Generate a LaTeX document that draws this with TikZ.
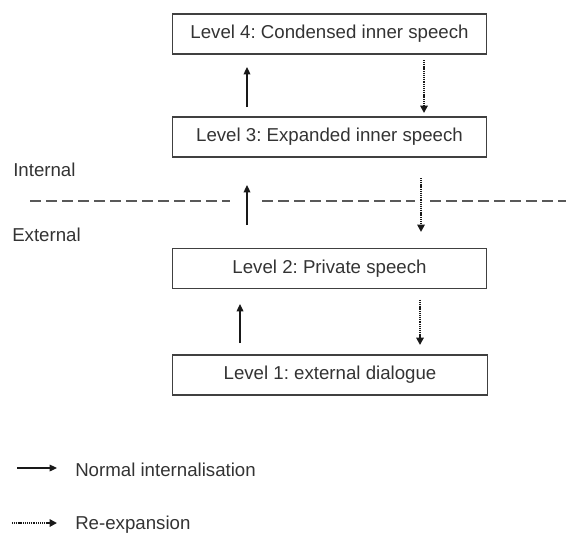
\documentclass[tikz,border=0pt]{standalone}
\usepackage{fontspec}
\setmainfont{Liberation Sans}
\usetikzlibrary{arrows.meta}
\frenchspacing

\begin{document}
\begin{tikzpicture}[x=0.75pt, y=-0.75pt,
    every node/.style={font=\fontsize{14}{16.8}\selectfont, text=black!80},
    level/.style ={rectangle, draw=black!75, line width=0.9pt, minimum width=236pt, minimum height=30pt, inner sep=0pt, outer sep=0pt},
    caption/.style ={anchor=base west, inner sep=0pt},
    internalisation/.style ={line width=0.9pt, black!90, -{Triangle[length=5.5pt, width=5pt]}},
    reexpansion/.style ={line width=1.4pt, black!90, dash pattern=on 0.8pt off 0.6pt, -{Triangle[length=5.5pt, width=5.5pt]}},
    divider/.style ={line width=1.1pt, black!65, dash pattern=on 8pt off 4pt}]
   \useasboundingbox (0,0) rectangle (566,532);
   \node[level] (L4) at (329.5,34)  {Level 4: Condensed inner speech};
   \node[level] (L3) at (329.5,137) {Level 3: Expanded inner speech};
   \node[level] (L2) at (329.5,268.5) {Level 2: Private speech};
   \node[level] (L1) at (330,375) {Level 1: external dialogue};
   \node[caption] (in) at (13,176.5) {Internal};
   \node[caption] (ex) at (12,241.5) {External};
   \node[caption] (normal) at (75,476) {Normal internalisation};
   \node[caption] (reexp) at (75,529.5) {Re-expansion};
   % arrow columns
   \coordinate (up1) at (247,0);
   \coordinate (up2) at (240,0);
   \coordinate (dn1) at (424,0);
   \coordinate (dn2) at (421,0);
   \coordinate (dn3) at (420,0);
   \coordinate (k1) at (17,468);
   \coordinate (k2) at (12,523);
   % boundary between internal and external
   \draw[divider] (30,201) -- (230,201);
   \draw[divider] (262,201) -- (415,201);
   \draw[divider] (430,201) -- (566,201);
   \draw[internalisation, shorten <=7.5pt, shorten >=9.75pt] (L3.north -| up1) to (L4.south -| up1);
   \draw[internalisation, shorten <=17.6pt, shorten >=21pt] (L2.north -| up1) to (L3.south -| up1);
   \draw[internalisation, shorten <=9pt, shorten >=11.6pt] (L1.north -| up2) to (L2.south -| up2);
   \draw[reexpansion, shorten <=4.5pt, shorten >=3pt] (L4.south -| dn1) to (L3.north -| dn1);
   \draw[reexpansion, shorten <=15.75pt, shorten >=12.4pt] (L3.south -| dn2) to (L2.north -| dn2);
   \draw[reexpansion, shorten <=8.6pt, shorten >=7.5pt] (L2.south -| dn3) to (L1.north -| dn3);
   % key
   \draw[internalisation, shorten >=13.5pt] (k1) to (k1 -| normal.west);
   \draw[reexpansion, shorten >=13.5pt] (k2) to (k2 -| reexp.west);
\end{tikzpicture}
\end{document}
